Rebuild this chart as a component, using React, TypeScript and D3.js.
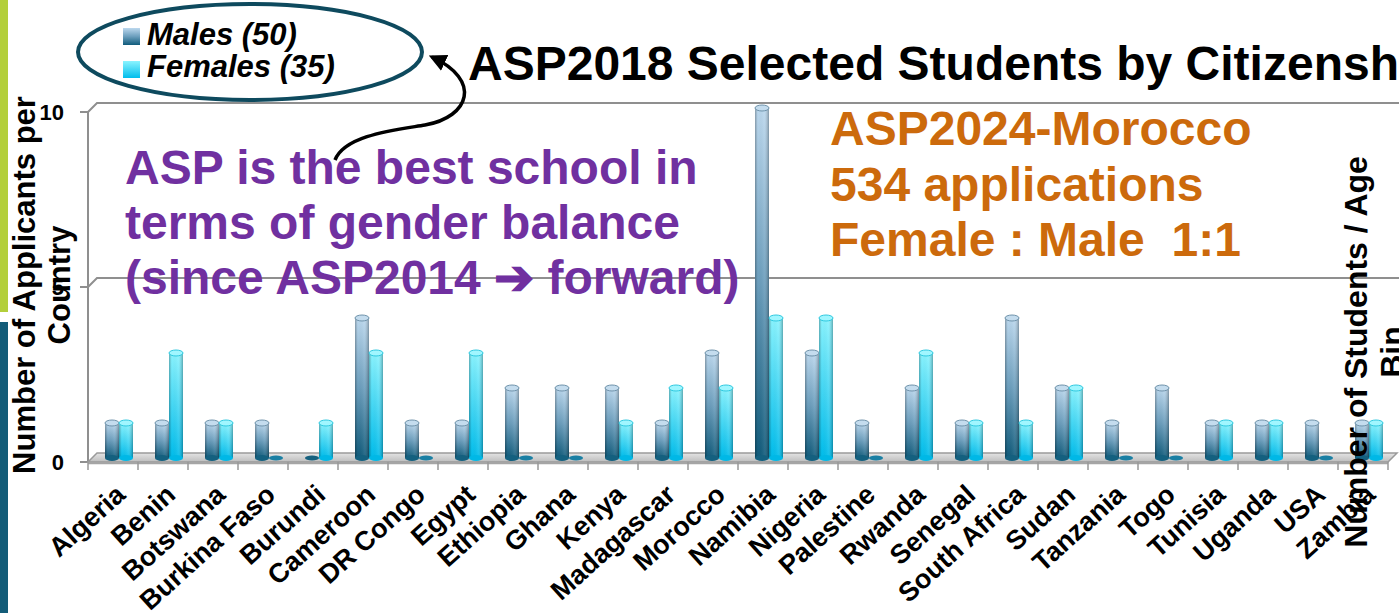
import React from 'react';
import * as d3 from 'd3';

// values
const countries = ['Algeria', 'Benin', 'Botswana', 'Burkina Faso', 'Burundi', 'Cameroon', 'DR Congo', 'Egypt',
  'Ethiopia', 'Ghana', 'Kenya', 'Madagascar', 'Morocco', 'Namibia', 'Nigeria', 'Palestine', 'Rwanda', 'Senegal',
  'South Africa', 'Sudan', 'Tanzania', 'Togo', 'Tunisia', 'Uganda', 'USA', 'Zambia'];
const males = [1, 1, 1, 1, 0, 4, 1, 1, 2, 2, 2, 1, 3, 10, 3, 1, 2, 1, 4, 2, 1, 2, 1, 1, 1, 1];
const females = [1, 3, 1, 0, 1, 3, 0, 3, 0, 0, 1, 2, 2, 4, 4, 0, 3, 1, 1, 2, 0, 0, 1, 1, 0, 1];
const yTicks = [0, 5, 10];
const legendLabels = ['Males (50)', 'Females (35)'];
const noteLines = ['ASP is the best school in', 'terms of gender balance', '(since ASP2014 \u2794 forward)'];
const moroccoLines = ['ASP2024-Morocco', '534 applications', 'Female : Male  1:1'];

const W = 1399, H = 613;
const FONT = '"Liberation Sans", Arial, sans-serif';
const depth = { dx: 9, dy: -9 };

const Cylinder = ({ x, w, top, bottom, kind }) => {
  const cx = x + w / 2;
  if (bottom - top < 1) {
    return <ellipse cx={cx} cy={bottom} rx={w / 2} ry={2.5} fill={kind === 'm' ? '#15607e' : '#1a7fa3'} />;
  }
  return (
    <g>
      <rect x={x} y={top} width={w} height={bottom - top} fill={`url(#${kind}V)`} />
      <rect x={x} y={top} width={w} height={bottom - top} fill="url(#shadeH)" />
      <ellipse cx={cx} cy={bottom} rx={w / 2} ry={3} fill={kind === 'm' ? '#14607f' : '#00b8e6'} />
      <ellipse cx={cx} cy={top} rx={w / 2} ry={3} fill={kind === 'm' ? '#c4dcee' : '#a0f6ff'}
        stroke={kind === 'm' ? '#6f93ab' : '#2fc9e0'} strokeWidth={1} />
    </g>
  );
};

export default function App() {
  const x = d3.scaleBand().domain(countries).range([88, 1388]);
  const y = d3.scaleLinear().domain([0, 10]).range([462, 112]);
  const bw = 14;
  const base = y(0) - 4;

  const floorPts = [[88, y(0)], [1388, y(0)], [1388 + depth.dx, y(0) + depth.dy], [88 + depth.dx, y(0) + depth.dy]]
    .map(p => p.join(',')).join(' ');

  return (
    <div style={{ position: 'fixed', left: 0, top: 0 }}>
      <svg width={W} height={H} style={{ display: 'block', background: '#fff' }}>
        <defs>
          <linearGradient id="mV" x1="0" y1="0" x2="0" y2="1">
            <stop offset="0" stopColor="#bcd8ee" />
            <stop offset="0.5" stopColor="#6b9ebd" />
            <stop offset="1" stopColor="#105b7b" />
          </linearGradient>
          <linearGradient id="fV" x1="0" y1="0" x2="0" y2="1">
            <stop offset="0" stopColor="#8af4ff" />
            <stop offset="1" stopColor="#00bdec" />
          </linearGradient>
          <linearGradient id="shadeH" x1="0" y1="0" x2="1" y2="0">
            <stop offset="0" stopColor="#000" stopOpacity="0.28" />
            <stop offset="0.2" stopColor="#000" stopOpacity="0" />
            <stop offset="0.65" stopColor="#fff" stopOpacity="0.08" />
            <stop offset="1" stopColor="#000" stopOpacity="0.3" />
          </linearGradient>
          <linearGradient id="floorG" x1="0" y1="0" x2="0" y2="1">
            <stop offset="0" stopColor="#e4e4e4" />
            <stop offset="1" stopColor="#bdbdbd" />
          </linearGradient>
          <marker id="arrowHead" viewBox="0 0 10 10" refX="8" refY="5" markerWidth="5" markerHeight="5" orient="auto">
            <path d="M0,0 L10,5 L0,10 Z" fill="#000" />
          </marker>
        </defs>

        {/* slide side decoration */}
        <rect x={0} y={0} width={8} height={312} fill="#b3cf3b" />
        <rect x={0} y={322} width={8} height={H - 322} fill="#135c78" />

        {/* walls and gridlines */}
        {yTicks.filter(t => t > 0).map(t => (
          <polyline key={t} fill="none" stroke="#8f8f8f" strokeWidth={2}
            points={`88,${y(t)} ${88 + depth.dx},${y(t) + depth.dy} ${W + 5},${y(t) + depth.dy}`} />
        ))}
        <line x1={88} x2={88} y1={y(10)} y2={y(0) + 1} stroke="#8f8f8f" strokeWidth={2} />
        {yTicks.map(t => (
          <line key={t} x1={80} x2={88} y1={y(t)} y2={y(t)} stroke="#8f8f8f" strokeWidth={2} />
        ))}
        {yTicks.map(t => (
          <text key={t} x={64} y={y(t)} dy="0.36em" textAnchor="end" fontFamily={FONT} fontWeight="bold"
            fontSize={22} fill="#000">{t}</text>
        ))}

        {/* floor */}
        <polygon points={floorPts} fill="url(#floorG)" stroke="#9a9a9a" strokeWidth={1.5} />
        <line x1={88} x2={1388} y1={y(0) + 1} y2={y(0) + 1} stroke="#a5a5a5" strokeWidth={2.5} />
        {countries.map(c => (
          <line key={c} x1={x(c)} x2={x(c)} y1={y(0)} y2={y(0) + 8} stroke="#999" strokeWidth={1.5} />
        ))}
        <line x1={1388} x2={1388} y1={y(0)} y2={y(0) + 8} stroke="#999" strokeWidth={1.5} />

        {/* bars */}
        {countries.map((c, i) => {
          const x0 = x(c);
          return (
            <g key={c}>
              <Cylinder x={x0 + 17} w={bw} top={y(males[i]) - 4} bottom={base} kind="m" />
              <Cylinder x={x0 + 31} w={bw} top={y(females[i]) - 4} bottom={base} kind="f" />
            </g>
          );
        })}

        {/* category labels */}
        {countries.map(c => {
          const cx = x(c) + x.bandwidth() / 2;
          return (
            <text key={c} transform={`translate(${cx + 14},${497}) rotate(-42)`} textAnchor="end"
              fontFamily={FONT} fontWeight="bold" fontSize={27} fill="#000">{c}</text>
          );
        })}

        {/* axis titles */}
        <text transform="translate(35,285) rotate(-90)" textAnchor="middle" fontFamily={FONT} fontWeight="bold"
          fontSize={31} fill="#000">
          <tspan x={0} y={0}>Number of Applicants per</tspan>
          <tspan x={0} y={35}>Country</tspan>
        </text>
        <text transform="translate(1367,352) rotate(-90)" textAnchor="middle" fontFamily={FONT} fontWeight="bold"
          fontSize={32} fill="#000">
          <tspan x={0} y={0}>Number of Students / Age</tspan>
          <tspan x={0} y={36}>Bin</tspan>
        </text>

        {/* title */}
        <text x={468} y={80} fontFamily={FONT} fontWeight="bold" fontSize={48} fill="#000">
          ASP2018 Selected Students by Citizenship
        </text>

        {/* legend */}
        <ellipse cx={250} cy={52} rx={172} ry={48} fill="#fff" stroke="#0e4a5e" strokeWidth={4} />
        {legendLabels.map((l, i) => (
          <g key={l}>
            <rect x={123} y={28 + i * 33} width={17} height={17} fill={i === 0 ? 'url(#mV)' : 'url(#fV)'} />
            <text x={147} y={45 + i * 32} fontFamily={FONT} fontWeight="bold" fontStyle="italic" fontSize={31}
              fill="#000">{l}</text>
          </g>
        ))}

        {/* arrow */}
        <path d="M335,160 C345,135 395,130 425,125 C470,117 482,80 432,57" fill="none" stroke="#000"
          strokeWidth={3.5} markerEnd="url(#arrowHead)" />

        {/* annotations */}
        {noteLines.map((l, i) => (
          <text key={l} x={125} y={184 + i * 55} fontFamily={FONT} fontWeight="bold" fontSize={48}
            fill="#7030a0">{l}</text>
        ))}
        {moroccoLines.map((l, i) => (
          <text key={l} x={830} y={145 + i * 55.5} fontFamily={FONT} fontWeight="bold" fontSize={48}
            fill="#cc6a0c" style={{ whiteSpace: 'pre' }}>{l}</text>
        ))}
      </svg>
    </div>
  );
}
